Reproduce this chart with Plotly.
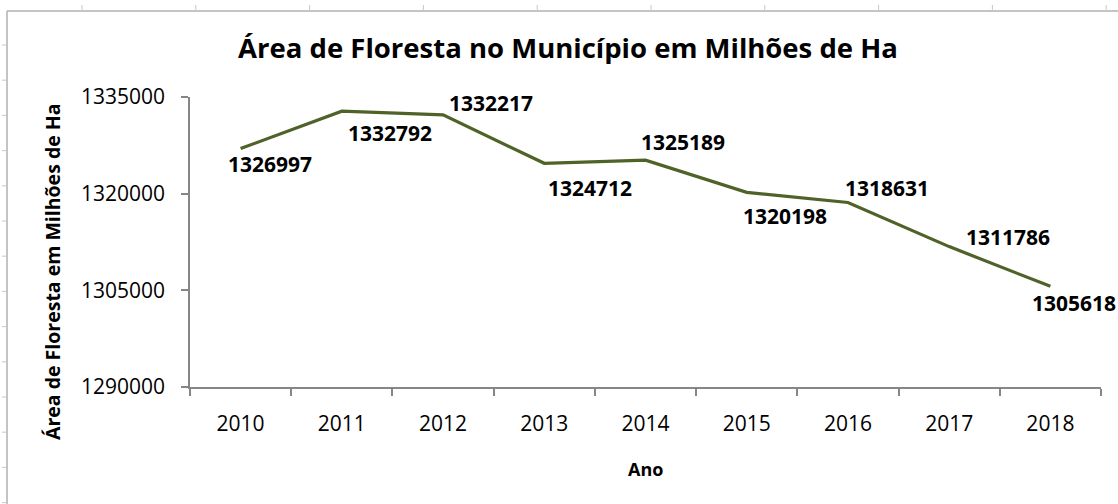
import plotly.graph_objects as go

anos = ["2010", "2011", "2012", "2013", "2014", "2015", "2016", "2017", "2018"]
area = [1326997, 1332792, 1332217, 1324712, 1325189, 1320198, 1318631, 1311786, 1305618]
y_ticks = [1290000, 1305000, 1320000, 1335000]
titulo = "Área de Floresta no Município em Milhões de Ha"
titulo_y = "Área de Floresta em Milhões de Ha"
titulo_x = "Ano"

# label offsets (pixels) relative to each point
label_dx = [29, 48, 48, 46, 37, 38, 39, 59, 24]
label_dy = [-15, -22, 12, -25, 18, -24, 14, 10, -17]

W, H = 1118, 504
L, R, T, B = 190, 17, 97, 117
PW, PH = W - L - R, H - T - B

def px(x):
    return (x - L) / PW

def py(y):
    return (H - B - y) / PH

FONT = "Open Sans"
line_col = "#4F6228"
axis_col = "#868686"

fig = go.Figure()
fig.add_trace(go.Scatter(
    x=anos, y=area, mode="lines",
    line=dict(color=line_col, width=3.2),
    hoverinfo="x+y", showlegend=False,
))

for i, (v, dx, dy) in enumerate(zip(area, label_dx, label_dy)):
    fig.add_annotation(
        x=i, y=v, text=f"{v}", showarrow=False,
        xshift=dx, yshift=dy, xanchor="center", yanchor="middle",
        font=dict(family=FONT, size=21, color="#000000", weight="bold"),
    )

fig.add_annotation(
    xref="paper", yref="paper", x=px(52), y=py(272),
    xanchor="center", yanchor="middle",
    text=titulo_y, textangle=-90, showarrow=False,
    font=dict(family=FONT, size=19.5, color="#000000", weight="bold"),
)
fig.add_annotation(
    xref="paper", yref="paper", x=px(645), y=py(469),
    xanchor="center", yanchor="middle",
    text=titulo_x, showarrow=False,
    font=dict(family=FONT, size=18, color="#000000", weight="bold"),
)

# document frame with ruler-like ticks
shapes = []
frame_col = "#B0B0B0"
shapes.append(dict(type="line", xref="paper", yref="paper",
                   x0=px(7), x1=px(7), y0=py(11), y1=py(H + 20),
                   line=dict(color=frame_col, width=1.5)))
shapes.append(dict(type="line", xref="paper", yref="paper",
                   x0=px(7), x1=px(W + 20), y0=py(11), y1=py(11),
                   line=dict(color=frame_col, width=1.5)))
tx = 82.0
while tx < W:
    shapes.append(dict(type="line", xref="paper", yref="paper",
                       x0=px(tx), x1=px(tx), y0=py(5), y1=py(11),
                       line=dict(color="#C8C8C8", width=1)))
    tx += 113.8
ty = 45.0
while ty < H:
    shapes.append(dict(type="line", xref="paper", yref="paper",
                       x0=px(2), x1=px(7), y0=py(ty), y1=py(ty),
                       line=dict(color="#C8C8C8", width=1)))
    ty += 35.2

fig.update_layout(
    width=W, height=H,
    margin=dict(l=L, r=R, t=T, b=B, pad=0),
    paper_bgcolor="white", plot_bgcolor="white",
    shapes=shapes,
    title=dict(
        text=titulo, x=568 / W, xanchor="center", xref="container",
        y=1 - 48 / H, yanchor="middle", yref="container",
        font=dict(family=FONT, size=27.5, color="#000000", weight="bold"),
    ),
    xaxis=dict(
        type="category", range=[-0.5, 8.5],
        tickson="boundaries", ticks="outside", ticklen=7,
        tickcolor=axis_col, tickwidth=1.5,
        showline=True, linecolor=axis_col, linewidth=1.5,
        showgrid=False, zeroline=False,
        tickfont=dict(family=FONT, size=21, color="#000000"),
        ticklabelstandoff=17,
    ),
    yaxis=dict(
        range=[1290000, 1335000], tickvals=y_ticks,
        ticktext=[str(v) for v in y_ticks],
        ticks="outside", ticklen=7, tickcolor=axis_col, tickwidth=1.5,
        showline=True, linecolor=axis_col, linewidth=1.5,
        showgrid=False, zeroline=False,
        tickfont=dict(family=FONT, size=21, color="#000000"),
        ticklabelstandoff=12,
    ),
    font=dict(family=FONT),
)

fig.write_html(
    "out.html",
    config={"displayModeBar": False},
    post_script="document.body.style.margin='0';document.body.style.overflow='hidden';",
)
